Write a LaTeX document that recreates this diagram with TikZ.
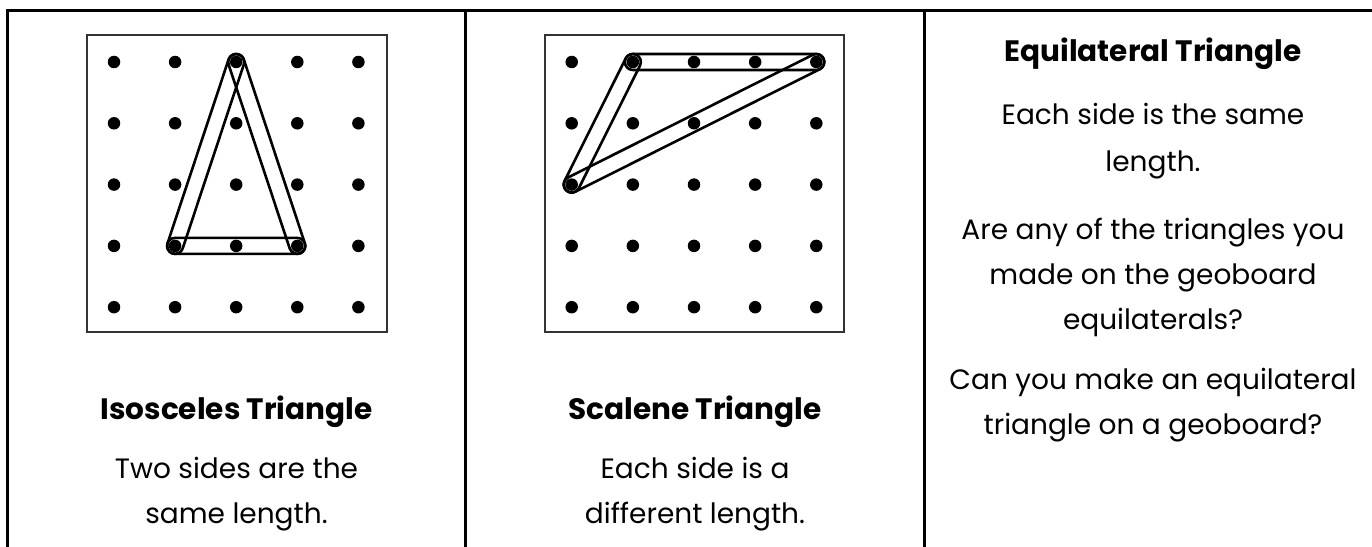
\documentclass[tikz,border=0pt]{standalone}
\usepackage{fontspec}
\setmainfont{Poppins}
\usetikzlibrary{calc}
\tikzset{
  frameline/.style={line width=3pt, draw=black, line join=miter, line cap=rect},
  board/.style={line width=1.3pt, draw=black!80},
  peg/.style={circle, fill=black, inner sep=0pt, minimum size=12.5pt},
  band/.style={line width=2.6pt, draw=black, line join=round},
  titletext/.style={font=\bfseries\fontsize{29.5}{34}\selectfont, anchor=base, inner sep=0pt},
  bodytext/.style={font=\fontsize{28}{34}\selectfont, anchor=base, inner sep=0pt},
}
\newcommand\capsule[2]{%
  \draw[band] let \p1=(#1.center), \p2=(#2.center), \n1={atan2(\y2-\y1,\x2-\x1)} in
    ($(\p1)+(\n1+90:8pt)$) -- ($(\p2)+(\n1+90:8pt)$)
    arc[start angle=\n1+90, end angle=\n1-90, radius=8pt]
    -- ($(\p1)+(\n1-90:8pt)$)
    arc[start angle=\n1-90, end angle=\n1-270, radius=8pt] -- cycle;}
\begin{document}
\begin{tikzpicture}[x=1pt,y=1pt]
\useasboundingbox (0,0) rectangle (1372,546);
% table frame
\draw[frameline] (7.5,-5) -- (7.5,535.2) -- (1380,535.2);
\draw[frameline] (465.5,535.2) -- (465.5,-5);
\draw[frameline] (924,535.2) -- (924,-5);
% geoboards
\draw[board] (87,511) rectangle (387,214);
\draw[board] (545,511) rectangle (844,214);
\foreach \i in {0,...,4}{
  \foreach \j in {0,...,4}{
    \node[peg] (a-\i-\j) at ({114+61.1*\i},{484-61.3*\j}) {};
    \node[peg] (b-\i-\j) at ({571.7+61.15*\i},{484-61.3*\j}) {};
  }
}
% isosceles bands
\capsule{a-2-0}{a-1-3}
\capsule{a-2-0}{a-3-3}
\capsule{a-1-3}{a-3-3}
% scalene bands
\capsule{b-1-0}{b-4-0}
\capsule{b-0-2}{b-4-0}
\capsule{b-0-2}{b-1-0}
% texts column 1
\node[titletext] (t1) at (236.5,126) {Isosceles Triangle};
\node[bodytext] (t1a) at (236.5,68) {Two sides are the};
\node[bodytext] (t1b) at (236.5,23) {same length.};
% column 2
\node[titletext] (t2) at (695,126) {Scalene Triangle};
\node[bodytext] (t2a) at (695,68) {Each side is a};
\node[bodytext] (t2b) at (695,23) {different length.};
% column 3
\node[titletext] (t3) at (1153,484) {Equilateral Triangle};
\node[bodytext] (t3a) at (1153,421) {Each side is the same};
\node[bodytext] (t3b) at (1153,374) {length.};
\node[bodytext] (t3c) at (1153,306) {Are any of the triangles you};
\node[bodytext] (t3d) at (1153,261) {made on the geoboard};
\node[bodytext] (t3e) at (1153,216) {equilaterals?};
\node[bodytext] (t3f) at (1153,156) {Can you make an equilateral};
\node[bodytext] (t3g) at (1153,111) {triangle on a geoboard?};
\end{tikzpicture}
\end{document}
